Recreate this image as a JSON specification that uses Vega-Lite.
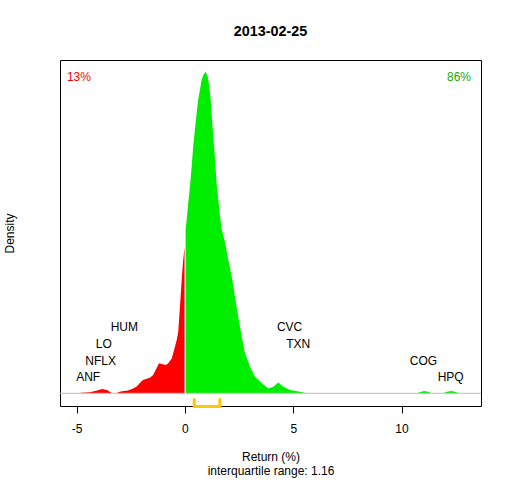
{
  "$schema": "https://vega.github.io/schema/vega-lite/v6.json",
  "width": 421,
  "height": 346,
  "autosize": {"type": "none"},
  "padding": {"left": 60, "top": 60, "right": 31, "bottom": 74},
  "background": "white",
  "title": {"text": "2013-02-25", "font": "Liberation Sans", "fontSize": 14.4, "fontWeight": "bold", "color": "black", "anchor": "middle", "frame": "group", "offset": 21},
  "datasets": {
    "dens": [
      {"seg": "neg", "r": -4.85, "d": 0},
      {"seg": "neg", "r": -4.80, "d": 0.001},
      {"seg": "neg", "r": -4.39, "d": 0.002},
      {"seg": "neg", "r": -4.06, "d": 0.005},
      {"seg": "neg", "r": -3.83, "d": 0.008},
      {"seg": "neg", "r": -3.60, "d": 0.006},
      {"seg": "neg", "r": -3.42, "d": 0.0015},
      {"seg": "neg", "r": -3.35, "d": 0},
      {"seg": "neg", "r": -3.14, "d": 0},
      {"seg": "neg", "r": -3.09, "d": 0.002},
      {"seg": "neg", "r": -2.91, "d": 0.004},
      {"seg": "neg", "r": -2.63, "d": 0.005},
      {"seg": "neg", "r": -2.39, "d": 0.009},
      {"seg": "neg", "r": -2.22, "d": 0.013},
      {"seg": "neg", "r": -2.08, "d": 0.019},
      {"seg": "neg", "r": -1.94, "d": 0.025},
      {"seg": "neg", "r": -1.77, "d": 0.027},
      {"seg": "neg", "r": -1.62, "d": 0.029},
      {"seg": "neg", "r": -1.47, "d": 0.034},
      {"seg": "neg", "r": -1.31, "d": 0.047},
      {"seg": "neg", "r": -1.20, "d": 0.056},
      {"seg": "neg", "r": -1.02, "d": 0.054},
      {"seg": "neg", "r": -0.88, "d": 0.053},
      {"seg": "neg", "r": -0.77, "d": 0.056},
      {"seg": "neg", "r": -0.61, "d": 0.065},
      {"seg": "neg", "r": -0.54, "d": 0.075},
      {"seg": "neg", "r": -0.38, "d": 0.0995},
      {"seg": "neg", "r": -0.31, "d": 0.115},
      {"seg": "neg", "r": -0.23, "d": 0.162},
      {"seg": "neg", "r": -0.15, "d": 0.212},
      {"seg": "neg", "r": -0.09, "d": 0.245},
      {"seg": "neg", "r": -0.02, "d": 0.273},
      {"seg": "pos", "r": 0.03, "d": 0.305},
      {"seg": "pos", "r": 0.08, "d": 0.324},
      {"seg": "pos", "r": 0.15, "d": 0.355},
      {"seg": "pos", "r": 0.23, "d": 0.386},
      {"seg": "pos", "r": 0.31, "d": 0.423},
      {"seg": "pos", "r": 0.38, "d": 0.461},
      {"seg": "pos", "r": 0.46, "d": 0.492},
      {"seg": "pos", "r": 0.54, "d": 0.523},
      {"seg": "pos", "r": 0.61, "d": 0.548},
      {"seg": "pos", "r": 0.69, "d": 0.566},
      {"seg": "pos", "r": 0.77, "d": 0.585},
      {"seg": "pos", "r": 0.85, "d": 0.594},
      {"seg": "pos", "r": 0.96, "d": 0.600},
      {"seg": "pos", "r": 1.05, "d": 0.591},
      {"seg": "pos", "r": 1.12, "d": 0.573},
      {"seg": "pos", "r": 1.19, "d": 0.548},
      {"seg": "pos", "r": 1.25, "d": 0.510},
      {"seg": "pos", "r": 1.31, "d": 0.479},
      {"seg": "pos", "r": 1.39, "d": 0.436},
      {"seg": "pos", "r": 1.46, "d": 0.392},
      {"seg": "pos", "r": 1.54, "d": 0.361},
      {"seg": "pos", "r": 1.62, "d": 0.330},
      {"seg": "pos", "r": 1.70, "d": 0.305},
      {"seg": "pos", "r": 1.80, "d": 0.290},
      {"seg": "pos", "r": 1.89, "d": 0.274},
      {"seg": "pos", "r": 1.97, "d": 0.255},
      {"seg": "pos", "r": 2.16, "d": 0.218},
      {"seg": "pos", "r": 2.31, "d": 0.180},
      {"seg": "pos", "r": 2.46, "d": 0.143},
      {"seg": "pos", "r": 2.62, "d": 0.106},
      {"seg": "pos", "r": 2.77, "d": 0.075},
      {"seg": "pos", "r": 3.00, "d": 0.050},
      {"seg": "pos", "r": 3.23, "d": 0.031},
      {"seg": "pos", "r": 3.54, "d": 0.019},
      {"seg": "pos", "r": 3.85, "d": 0.009},
      {"seg": "pos", "r": 4.08, "d": 0.012},
      {"seg": "pos", "r": 4.31, "d": 0.020},
      {"seg": "pos", "r": 4.54, "d": 0.012},
      {"seg": "pos", "r": 4.85, "d": 0.006},
      {"seg": "pos", "r": 5.31, "d": 0.003},
      {"seg": "pos", "r": 5.62, "d": 0},
      {"seg": "cog", "r": 10.70, "d": 0},
      {"seg": "cog", "r": 10.85, "d": 0.002},
      {"seg": "cog", "r": 11.04, "d": 0.0045},
      {"seg": "cog", "r": 11.22, "d": 0.003},
      {"seg": "cog", "r": 11.40, "d": 0},
      {"seg": "hpq", "r": 11.92, "d": 0},
      {"seg": "hpq", "r": 12.10, "d": 0.003},
      {"seg": "hpq", "r": 12.29, "d": 0.0045},
      {"seg": "hpq", "r": 12.47, "d": 0.003},
      {"seg": "hpq", "r": 12.66, "d": 0}
    ],
    "labels": [
      {"t": "ANF", "r": -4.47, "d": 0.0295},
      {"t": "NFLX", "r": -3.89, "d": 0.0598},
      {"t": "LO", "r": -3.75, "d": 0.0911},
      {"t": "HUM", "r": -2.80, "d": 0.1229},
      {"t": "CVC", "r": 4.83, "d": 0.1229},
      {"t": "TXN", "r": 5.23, "d": 0.0911},
      {"t": "COG", "r": 11.01, "d": 0.0598},
      {"t": "HPQ", "r": 12.27, "d": 0.0295}
    ],
    "iqr": [
      {"o": 1, "r": 0.43, "d": -0.0093},
      {"o": 2, "r": 0.43, "d": -0.0245},
      {"o": 3, "r": 1.61, "d": -0.0245},
      {"o": 4, "r": 1.61, "d": -0.0093}
    ],
    "pct": [
      {"t": "13%", "side": "left", "r": -5.45, "d": 0.5897},
      {"t": "86%", "side": "right", "r": 13.21, "d": 0.5897}
    ],
    "base": [
      {"d": 0}
    ]
  },
  "layer": [
    {
      "data": {"name": "dens"},
      "mark": {"type": "area", "interpolate": "linear"},
      "encoding": {
        "x": {"field": "r", "type": "quantitative",
          "scale": {"domain": [-5.77, 13.67], "nice": false, "zero": false},
          "axis": {"values": [-5, 0, 5, 10], "domain": false, "grid": false, "tickSize": 7, "tickColor": "black", "tickWidth": 1,
            "labelFont": "Liberation Sans", "labelFontSize": 12, "labelColor": "black", "labelPadding": 10, "labelFlush": false,
            "labelExpr": "'' + datum.value",
            "title": ["Return (%)", "interquartile range: 1.16"], "titleFont": "Liberation Sans", "titleFontSize": 12, "titleFontWeight": "normal",
            "titleColor": "black", "titlePadding": 17, "titleLineHeight": 14}},
        "y": {"field": "d", "type": "quantitative",
          "scale": {"domain": [-0.0237, 0.622], "nice": false, "zero": false},
          "axis": {"labels": false, "ticks": false, "domain": false, "grid": false, "title": "Density",
            "titleFont": "Liberation Sans", "titleFontSize": 12, "titleFontWeight": "normal", "titleColor": "black", "titlePadding": 44}},
        "y2": {"datum": 0},
        "color": {"field": "seg", "type": "nominal",
          "scale": {"domain": ["neg", "pos", "cog", "hpq"], "range": ["#FF0000", "#00EE00", "#00EE00", "#00EE00"]},
          "legend": null}
      }
    },
    {
      "data": {"name": "base"},
      "mark": {"type": "rule", "color": "#BEBEBE", "strokeWidth": 1},
      "encoding": {"y": {"field": "d", "type": "quantitative"}}
    },
    {
      "data": {"name": "iqr"},
      "mark": {"type": "line", "color": "#FFC800", "strokeWidth": 3, "clip": false},
      "encoding": {
        "x": {"field": "r", "type": "quantitative"},
        "y": {"field": "d", "type": "quantitative"},
        "order": {"field": "o", "type": "quantitative"}
      }
    },
    {
      "data": {"name": "labels"},
      "mark": {"type": "text", "font": "Liberation Sans", "fontSize": 12, "color": "black", "align": "center", "baseline": "middle"},
      "encoding": {
        "x": {"field": "r", "type": "quantitative"},
        "y": {"field": "d", "type": "quantitative"},
        "text": {"field": "t"}
      }
    },
    {
      "data": {"name": "pct"},
      "transform": [{"filter": "datum.side == 'left'"}],
      "mark": {"type": "text", "font": "Liberation Sans", "fontSize": 12, "color": "#FF0000", "align": "left", "baseline": "middle"},
      "encoding": {
        "x": {"field": "r", "type": "quantitative"},
        "y": {"field": "d", "type": "quantitative"},
        "text": {"field": "t"}
      }
    },
    {
      "data": {"name": "pct"},
      "transform": [{"filter": "datum.side == 'right'"}],
      "mark": {"type": "text", "font": "Liberation Sans", "fontSize": 12, "color": "#11A811", "align": "right", "baseline": "middle"},
      "encoding": {
        "x": {"field": "r", "type": "quantitative"},
        "y": {"field": "d", "type": "quantitative"},
        "text": {"field": "t"}
      }
    }
  ],
  "config": {
    "view": {"stroke": "black", "strokeWidth": 1},
    "font": "Liberation Sans"
  }
}
